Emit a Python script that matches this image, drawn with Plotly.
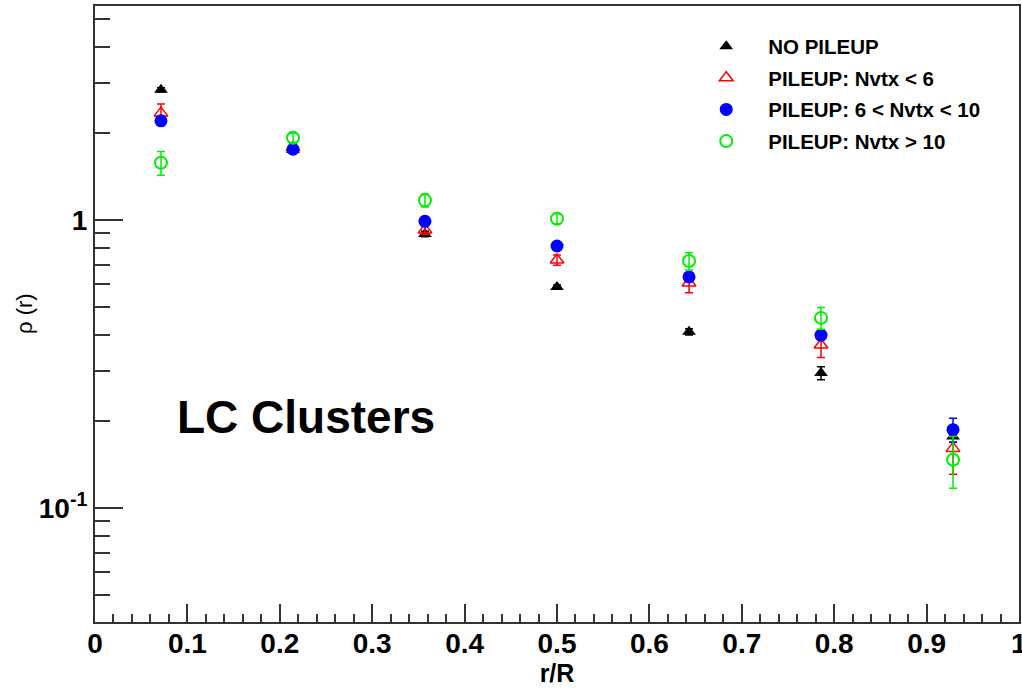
import plotly.graph_objects as go

# bin centres in r/R (7 annuli of equal width)
r_centres = [0.0714, 0.2143, 0.3571, 0.5, 0.6429, 0.7857, 0.9286]

# rho(r) profile for each pileup condition, with statistical errors
rho_nopileup = [2.83, 1.75, 0.894, 0.585, 0.409, 0.294, 0.177]
err_nopileup = [0.05, 0.03, 0.02, 0.01, 0.01, 0.015, 0.008]

rho_low = [2.35, 1.78, 0.923, 0.726, 0.604, 0.368, 0.161]
err_low = [0.18, 0.06, 0.03, 0.03, 0.045, 0.035, 0.03]

rho_mid = [2.21, 1.76, 0.99, 0.812, 0.634, 0.398, 0.187]
err_mid = [0.06, 0.03, 0.03, 0.02, 0.02, 0.015, 0.018]

rho_high = [1.58, 1.93, 1.17, 1.01, 0.72, 0.457, 0.147]
err_high = [0.15, 0.07, 0.06, 0.04, 0.05, 0.04, 0.03]

# x-axis tick labels
x_ticks = [0, 0.1, 0.2, 0.3, 0.4, 0.5, 0.6, 0.7, 0.8, 0.9, 1]
x_labels = ["0", "0.1", "0.2", "0.3", "0.4", "0.5", "0.6", "0.7", "0.8", "0.9", "1"]

series = [
    ("NO PILEUP", rho_nopileup, err_nopileup, "triangle-up", "#000000", 12, 0),
    ("PILEUP: Nvtx < 6", rho_low, err_low, "triangle-up-open", "#ff0000", 12, 1.5),
    ("PILEUP: 6 < Nvtx < 10", rho_mid, err_mid, "circle", "#0000ff", 13, 0),
    ("PILEUP: Nvtx > 10", rho_high, err_high, "circle-open", "#00ee00", 12, 2),
]

FONT = "Liberation Sans, Arial, Helvetica, sans-serif"
AXIS_COLOR = "#333333"
TICK_FONT = dict(size=28, weight="bold", family=FONT)

fig = go.Figure()
for i, (name, vals, errs, sym, col, size, lw) in enumerate(series):
    fig.add_trace(go.Scatter(
        x=r_centres, y=vals, mode="markers", name=name,
        legendgroup=f"g{i}",
        marker=dict(symbol=sym, color=col, size=size, line=dict(color=col, width=lw)),
        error_y=dict(type="data", array=errs, visible=True, color=col,
                     thickness=1.5, width=4),
    ))

# minor tick positions for the log axis (2..9 per decade)
y_minor = [m * 10 ** d for d in (-2, -1, 0) for m in range(2, 10)]

fig.update_layout(
    width=1022, height=688,
    margin=dict(l=95, r=3, t=6, b=66),
    paper_bgcolor="white", plot_bgcolor="white",
    font=dict(family=FONT, color="black"),
    showlegend=True,
    legend=dict(
        x=0.6377, y=0.967, xanchor="left", yanchor="top",
        bgcolor="rgba(0,0,0,0)", borderwidth=0,
        font=dict(size=20.5, weight="bold", family=FONT),
        tracegroupgap=2, itemwidth=74,
    ),
    xaxis=dict(
        range=[0, 1], tickmode="array", tickvals=x_ticks, ticktext=x_labels,
        showgrid=False, zeroline=False,
        showline=True, linecolor=AXIS_COLOR, linewidth=2, mirror=True,
        ticks="inside", ticklen=18, tickwidth=1.5, tickcolor=AXIS_COLOR,
        tickfont=TICK_FONT, tickangle=0, ticklabelstandoff=-5,
        minor=dict(ticks="inside", dtick=0.02, tick0=0, ticklen=8, tickwidth=1.5,
                   tickcolor=AXIS_COLOR, showgrid=False),
        title=dict(text="r/R", font=dict(size=25, weight="bold", family=FONT),
                   standoff=3),
        automargin=False,
    ),
    yaxis=dict(
        type="log", range=[-1.396, 0.743],
        tickvals=[0.1, 1], ticktext=["10<sup>-1</sup>", "1"],
        showgrid=False, zeroline=False,
        showline=True, linecolor=AXIS_COLOR, linewidth=2, mirror=True,
        ticks="inside", ticklen=28, tickwidth=1.5, tickcolor=AXIS_COLOR,
        tickfont=TICK_FONT,
        minor=dict(ticks="inside", tickvals=y_minor, ticklen=15, tickwidth=1.5,
                   tickcolor=AXIS_COLOR, showgrid=False),
        automargin=False,
    ),
)

# last x tick label sits on the page edge
fig.add_annotation(
    text="1", xref="x", yref="paper", x=1, y=0, yanchor="top", yshift=-4,
    showarrow=False, font=TICK_FONT,
)

# y-axis title
fig.add_annotation(
    text="ρ (r)", xref="paper", yref="paper", x=0, y=0.5,
    xanchor="center", yanchor="middle", xshift=-71, yshift=0,
    textangle=-90, showarrow=False, font=dict(size=22, family=FONT),
)

# sample label
fig.add_annotation(
    text="<b>LC Clusters</b>", xref="x", yref="paper", x=0.228, y=0.333,
    xanchor="center", yanchor="middle", showarrow=False,
    font=dict(size=46, family=FONT),
)

# pointer towards the legend
fig.add_annotation(
    text="", xref="x", yref="y", x=0.845, y=1.2,
    ax=146, ay=86, axref="pixel", ayref="pixel",
    showarrow=True, arrowhead=2, arrowsize=1.6, arrowwidth=1.5,
    arrowcolor="black",
)

fig.write_html("out.html")
